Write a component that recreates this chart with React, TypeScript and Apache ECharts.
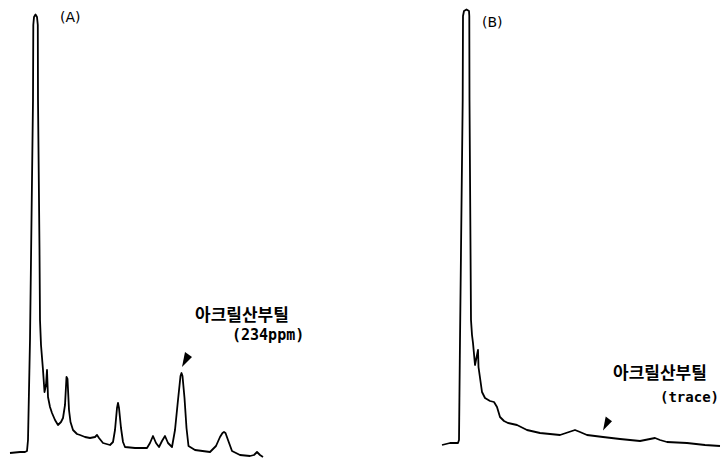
import React, { useEffect, useRef } from "react";
import * as echarts from "echarts";

// Chromatogram (A): [retention position, detector response]
const traceA: [number, number][] = [
  [10, 5], [20, 6], [25, 6], [27, 7], [28, 18], [30, 118], [33, 358], [33.3, 433], [34, 441],
  [35.5, 443.5], [37, 441], [37.8, 433], [38, 358], [39.5, 208], [40, 138], [41, 113], [43, 88],
  [44.5, 66], [46, 73], [47, 88], [48, 61], [50, 51], [52, 45], [55, 38], [58, 33], [61, 36],
  [63, 40], [65, 53], [66.5, 81], [67.5, 79], [69, 48], [70.5, 36], [73, 28], [77, 24], [80, 23], [85, 21],
  [90, 20], [95, 21], [97, 23], [99, 20], [103, 15], [110, 13], [113, 16], [115, 28], [117, 50],
  [118, 55], [119, 50], [121, 30], [123, 16], [125, 11], [135, 10], [147, 10], [150, 15], [153, 22],
  [156, 15], [159, 11], [162, 17], [165, 22], [168, 15], [172, 11], [175, 28], [178, 58],
  [180.5, 82], [181.5, 85], [182.5, 82], [184.5, 60], [186.5, 30], [188.5, 12], [195, 8], [210, 6],
  [216, 12], [220, 21], [222.5, 25], [224, 26], [225.5, 25], [228, 18], [232, 7],
  [240, 3], [250, 2], [254, 3], [257, 6], [260, 3], [263, 1],
];

// Chromatogram (B)
const traceB: [number, number][] = [
  [442, 13], [450, 15], [458, 15], [459, 18], [460, 118], [462.7, 358], [463, 442], [464, 447],
  [466.5, 448.5], [469, 447], [469.3, 442], [469.5, 358], [471, 138], [472, 123], [473, 115],
  [475, 93], [477, 103], [478, 108], [478.5, 91], [482, 66], [485, 60], [490, 57], [494, 56],
  [497, 51], [500, 41], [504, 37], [508, 35], [517, 33], [527, 28], [540, 25], [550, 24],
  [560, 23], [566, 25], [575, 28], [580, 26], [587, 23], [603, 21], [620, 19], [640, 17],
  [650, 19], [655, 20], [660, 18], [667, 16], [687, 15], [705, 13], [720, 12],
];

// Arrow markers pointing at butyl acrylate peak
const arrowA: [number, number] = [187, 98.5];
const arrowB: [number, number] = [607.5, 34.5];

const panelLabels = ["(A)", "(B)"];
const compoundName = "아크릴산부틸";
const amountA = "(234ppm)";
const amountB = "(trace)";

export default function App() {
  const ref = useRef<HTMLDivElement>(null);
  useEffect(() => {
    if (!ref.current) return;
    const chart = echarts.init(ref.current, undefined, { renderer: "svg" });
    const arrowSymbol = "path://M3,0 L10,5 L0,15 Z";
    const line = { color: "#000", width: 1.8, join: "round" as const };
    const korFont = '"Noto Sans CJK KR", sans-serif';
    const monoFont = '"DejaVu Sans Mono", monospace';
    chart.setOption({
      animation: false,
      backgroundColor: "#fff",
      grid: { left: 0, right: 0, top: 0, bottom: 0 },
      xAxis: { type: "value", min: 0, max: 721, show: false },
      yAxis: { type: "value", min: 0, max: 458, show: false },
      series: [
        {
          type: "line",
          data: traceA,
          symbol: "none",
          lineStyle: line,
          markPoint: {
            symbol: arrowSymbol,
            symbolSize: [10, 15],
            itemStyle: { color: "#000" },
            label: { show: false },
            data: [{ coord: arrowA }],
          },
        },
        {
          type: "line",
          data: traceB,
          symbol: "none",
          lineStyle: line,
          markPoint: {
            symbol: arrowSymbol,
            symbolSize: [9, 14],
            itemStyle: { color: "#000" },
            label: { show: false },
            data: [{ coord: arrowB }],
          },
        },
      ],
      graphic: [
        {
          type: "text", x: 60, y: 17,
          style: { text: panelLabels[0], font: '14px "DejaVu Sans", sans-serif', fill: "#000", verticalAlign: "middle" },
        },
        {
          type: "text", x: 482, y: 21.5,
          style: { text: panelLabels[1], font: '14px "DejaVu Sans", sans-serif', fill: "#000", verticalAlign: "middle" },
        },
        {
          type: "text", x: 195, y: 313,
          style: { text: compoundName, font: `bold 17px ${korFont}`, fill: "#000", verticalAlign: "middle" },
        },
        {
          type: "text", x: 232, y: 335,
          style: { text: amountA, font: `bold 15px ${monoFont}`, fill: "#000", verticalAlign: "middle" },
        },
        {
          type: "text", x: 613, y: 371,
          style: { text: compoundName, font: `bold 17px ${korFont}`, fill: "#000", verticalAlign: "middle" },
        },
        {
          type: "text", x: 660, y: 397,
          style: { text: amountB, font: `bold 14px ${monoFont}`, fill: "#000", verticalAlign: "middle" },
        },
      ],
    });
    return () => chart.dispose();
  }, []);
  return (
    <div
      ref={ref}
      style={{ position: "absolute", left: 0, top: 0, width: 721, height: 458 }}
    />
  );
}
